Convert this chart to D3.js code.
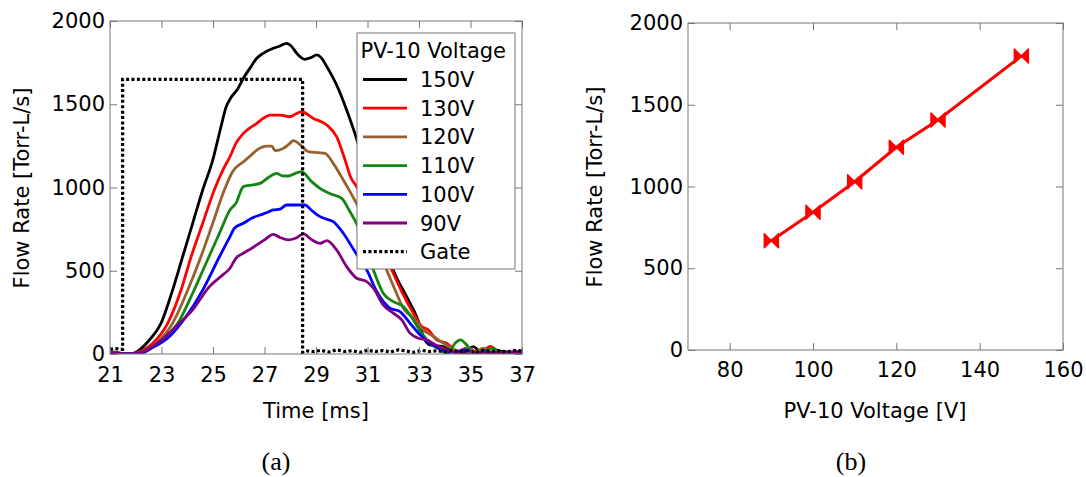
<!DOCTYPE html>
<html>
<head>
<meta charset="utf-8">
<script src="https://cdn.jsdelivr.net/npm/d3@7"></script>
<style>
  body { margin: 0; background: #fff; }
  svg text { font-family: "DejaVu Sans", sans-serif; fill: #000; }
  svg .caption { font-family: "Liberation Serif", serif; }
</style>
</head>
<body>
<svg id="chart" width="1086" height="477"></svg>
<script>
// panel (a): flow rate traces, [time ms, flow Torr-L/s]
const flow150 = [[21,12],[21.3,8],[21.6,2],[21.9,4],[22.14,24],[22.53,84],[22.98,184],[23.43,384],[23.82,584],[24.21,785],[24.6,985],[24.99,1165],[25.31,1365],[25.5,1480],[25.7,1540],[25.95,1590],[26.18,1656],[26.45,1720],[26.7,1776],[26.95,1806],[27.34,1836],[27.6,1850],[27.86,1866],[28.06,1846],[28.25,1806],[28.57,1770],[28.8,1780],[29.03,1796],[29.2,1780],[29.42,1726],[29.8,1616],[30.19,1465],[30.6,1280],[31.0,1050],[31.5,760],[32.0,505],[32.52,344],[32.91,224],[33.23,84],[33.43,54],[33.94,44],[34.33,14],[34.6,0],[34.85,20],[35.1,44],[35.4,14],[35.8,8],[36.2,15],[36.6,10],[37,12]];
const flow130 = [[21,10],[21.3,5],[21.6,0],[21.9,3],[22.1,10],[22.66,64],[23.24,184],[23.76,384],[24.15,584],[24.6,785],[25.05,985],[25.4,1110],[25.66,1185],[25.89,1265],[26.18,1325],[26.45,1360],[26.7,1385],[26.95,1415],[27.21,1435],[27.6,1435],[27.99,1425],[28.2,1440],[28.44,1455],[28.9,1415],[29.42,1375],[29.8,1305],[30.13,1165],[30.35,1060],[30.6,1000],[31.0,850],[31.5,660],[31.94,505],[32.33,375],[32.78,245],[33.1,165],[33.36,145],[33.69,85],[34.07,65],[34.5,15],[34.85,35],[35.1,20],[35.4,5],[35.76,45],[36.2,5],[36.6,12],[37,10]];
const flow120 = [[21,8],[21.3,4],[21.6,0],[21.9,2],[22.2,10],[22.79,64],[23.43,184],[24.02,384],[24.53,584],[24.99,785],[25.44,985],[25.76,1095],[26.18,1155],[26.45,1190],[26.7,1225],[27.09,1249],[27.28,1249],[27.41,1221],[27.73,1235],[27.95,1260],[28.12,1281],[28.44,1249],[28.7,1215],[29.09,1209],[29.35,1205],[29.67,1145],[30.06,1045],[30.25,995],[30.6,895],[31.0,760],[31.4,620],[31.74,505],[32.07,385],[32.39,275],[32.78,215],[33.17,145],[33.56,105],[33.94,65],[34.2,40],[34.53,5],[34.85,35],[35.1,5],[35.5,35],[35.8,10],[36.3,5],[37,8]];
const flow110 = [[21,8],[21.3,4],[21.6,0],[21.9,2],[22.3,10],[22.92,74],[23.63,184],[24.21,365],[24.73,545],[25.25,725],[25.66,865],[25.89,905],[26.18,1005],[26.5,1015],[26.83,1025],[27.15,1060],[27.47,1085],[27.7,1070],[27.92,1069],[28.2,1085],[28.44,1095],[28.8,1040],[29.2,990],[29.6,960],[30.0,935],[30.3,860],[30.6,775],[30.97,620],[31.23,505],[31.61,365],[32.0,315],[32.39,285],[32.78,205],[33.1,125],[33.43,65],[33.82,25],[34.1,0],[34.4,65],[34.6,85],[34.85,55],[35.1,5],[35.5,15],[35.87,35],[36.2,5],[36.6,10],[37,8]];
const flow100 = [[21,6],[21.3,3],[21.6,0],[21.9,0],[22.2,5],[22.6,34],[23.3,104],[23.95,224],[24.6,384],[25.25,584],[25.66,705],[25.83,755],[26.18,785],[26.5,815],[26.83,835],[27.1,850],[27.34,865],[27.6,870],[27.86,895],[28.2,895],[28.57,895],[28.85,860],[29.16,825],[29.4,810],[29.67,795],[30.06,725],[30.51,615],[30.97,505],[31.36,375],[31.87,275],[32.26,255],[32.65,185],[33.04,115],[33.3,80],[33.7,40],[34.0,20],[34.4,10],[34.8,25],[35.2,5],[35.6,15],[36.0,5],[36.5,10],[37,15]];
const flow90 = [[21,6],[21.3,3],[21.6,0],[21.9,0],[22.3,15],[22.92,74],[23.56,165],[24.21,265],[24.86,405],[25.38,475],[25.66,515],[25.89,575],[26.18,605],[26.45,630],[26.7,655],[27.0,685],[27.34,719],[27.6,700],[27.92,685],[28.2,695],[28.51,721],[28.8,690],[29.16,665],[29.42,681],[29.8,625],[30.19,525],[30.58,455],[30.97,435],[31.23,395],[31.61,295],[32.0,245],[32.33,205],[32.65,125],[32.97,95],[33.3,85],[33.7,50],[34.0,30],[34.5,5],[35.0,0],[35.5,10],[36.0,5],[36.5,10],[37,8]];
const gate = [[21,28],[21.2,32],[21.49,28],[21.49,1650],[28.48,1650],[28.48,10],[28.6,20],[28.9,15],[29.2,22],[29.5,12],[29.8,25],[30.1,15],[30.4,20],[30.7,10],[31.0,22],[31.3,15],[31.6,20],[31.9,12],[32.2,25],[32.5,18],[32.8,10],[33.1,22],[33.4,15],[33.7,20],[34.0,12],[34.3,22],[34.6,15],[34.9,20],[35.2,10],[35.5,22],[35.8,15],[36.1,20],[36.4,12],[36.7,22],[37,18]];

const seriesLabels = ['150V', '130V', '120V', '110V', '100V', '90V'];
const seriesColors = ['#000000', '#ff0000', '#98602e', '#138513', '#0000ff', '#800080'];
const seriesData = [flow150, flow130, flow120, flow110, flow100, flow90];

// panel (b): peak flow vs voltage
const voltages = [90, 100, 110, 120, 130, 150];
const peakFlow = [668, 842, 1029, 1240, 1407, 1798];

const timeTicks = [21, 23, 25, 27, 29, 31, 33, 35, 37];
const flowTicks = [0, 500, 1000, 1500, 2000];
const voltTicks = [80, 100, 120, 140, 160];

const svg = d3.select('#chart');
const frameColor = '#777';
const fontSize = 21;
const gateDash = '3,2.4';

function styleAxis(g) {
  g.attr('font-size', fontSize).attr('font-family', null);
  g.select('.domain').remove();
  g.selectAll('.tick line').attr('stroke', frameColor);
  g.selectAll('.tick text').attr('fill', '#000');
}

function drawFrame(x, y, xTicks, yTicks, xPad) {
  const [x0, x1] = x.range();
  const [y0, y1] = y.range();
  const plain = (d) => String(d);

  svg.append('g').attr('transform', `translate(0,${y0})`)
    .call(d3.axisBottom(x).tickValues(xTicks).tickFormat(plain).tickSizeInner(-7).tickSizeOuter(0).tickPadding(xPad))
    .call(styleAxis);
  svg.append('g').attr('transform', `translate(0,${y1})`)
    .call(d3.axisTop(x).tickValues(xTicks).tickSizeInner(-7).tickSizeOuter(0).tickFormat(''))
    .call(styleAxis);
  svg.append('g').attr('transform', `translate(${x0},0)`)
    .call(d3.axisLeft(y).tickValues(yTicks).tickFormat(plain).tickSizeInner(-7).tickSizeOuter(0).tickPadding(5))
    .call(styleAxis);
  svg.append('g').attr('transform', `translate(${x1},0)`)
    .call(d3.axisRight(y).tickValues(yTicks).tickSizeInner(-7).tickSizeOuter(0).tickFormat(''))
    .call(styleAxis);

  svg.append('rect')
    .attr('x', x0).attr('y', y1)
    .attr('width', x1 - x0).attr('height', y0 - y1)
    .attr('fill', 'none').attr('stroke', frameColor).attr('stroke-width', 1);
}

// ---- panel (a)
const xA = d3.scaleLinear().domain([21, 37]).range([110, 522]);
const yA = d3.scaleLinear().domain([0, 2000]).range([354, 21]);

svg.append('clipPath').attr('id', 'clipA')
  .append('rect').attr('x', 110).attr('y', 21).attr('width', 412).attr('height', 333);

const lineA = d3.line().x((d) => xA(d[0])).y((d) => yA(d[1])).curve(d3.curveMonotoneX);
const plotA = svg.append('g').attr('clip-path', 'url(#clipA)');

plotA.selectAll('path.trace')
  .data(seriesData)
  .join('path')
  .attr('class', 'trace')
  .attr('d', lineA)
  .attr('fill', 'none')
  .attr('stroke', (_, i) => seriesColors[i])
  .attr('stroke-width', 2.8)
  .attr('stroke-linejoin', 'round');

plotA.append('path')
  .attr('d', d3.line().x((d) => xA(d[0])).y((d) => yA(d[1]))(gate))
  .attr('fill', 'none')
  .attr('stroke', '#000')
  .attr('stroke-width', 3.2)
  .attr('stroke-dasharray', gateDash);

drawFrame(xA, yA, timeTicks, flowTicks, 13);

// legend
const legend = svg.append('g');
legend.append('rect')
  .attr('x', 357).attr('y', 33).attr('width', 158).attr('height', 236)
  .attr('fill', '#fff').attr('stroke', frameColor).attr('stroke-width', 1);
legend.append('text').attr('x', 360.5).attr('y', 58).attr('font-size', fontSize).text('PV-10 Voltage');

const legendItems = seriesLabels.map((label, i) => ({ label, color: seriesColors[i], dash: null }))
  .concat([{ label: 'Gate', color: '#000', dash: gateDash }]);

const items = legend.selectAll('g.item')
  .data(legendItems)
  .join('g')
  .attr('class', 'item')
  .attr('transform', (_, i) => `translate(0,${79.5 + i * 28.7})`);
items.append('line')
  .attr('x1', 363).attr('x2', 407)
  .attr('stroke', (d) => d.color)
  .attr('stroke-width', (d) => (d.dash ? 3.2 : 2.8))
  .attr('stroke-dasharray', (d) => d.dash);
items.append('text')
  .attr('x', 420).attr('y', 7.5)
  .attr('font-size', fontSize)
  .text((d) => d.label);

svg.append('text').attr('x', 316).attr('y', 418).attr('text-anchor', 'middle')
  .attr('font-size', fontSize).text('Time [ms]');
svg.append('text').attr('transform', 'translate(29,188) rotate(-90)').attr('text-anchor', 'middle')
  .attr('font-size', fontSize).text('Flow Rate [Torr-L/s]');
svg.append('text').attr('class', 'caption').attr('x', 276).attr('y', 470).attr('text-anchor', 'middle')
  .attr('font-size', 26).text('(a)');

// ---- panel (b)
const xB = d3.scaleLinear().domain([70, 160]).range([688, 1063]);
const yB = d3.scaleLinear().domain([0, 2000]).range([350, 23]);

drawFrame(xB, yB, voltTicks, flowTicks, 12);

const pointsB = voltages.map((v, i) => [v, peakFlow[i]]);

svg.append('path')
  .attr('d', d3.line().x((d) => xB(d[0])).y((d) => yB(d[1]))(pointsB))
  .attr('fill', 'none')
  .attr('stroke', '#ff0000')
  .attr('stroke-width', 3);

const s = 7;
const bowtie = `M${-s},${-s}L0,0L${-s},${s}ZM${s},${-s}L0,0L${s},${s}Z`;
svg.selectAll('path.marker')
  .data(pointsB)
  .join('path')
  .attr('class', 'marker')
  .attr('transform', (d) => `translate(${xB(d[0])},${yB(d[1])})`)
  .attr('d', bowtie)
  .attr('fill', '#ff0000')
  .attr('stroke', '#ff0000')
  .attr('stroke-width', 1.5)
  .attr('stroke-linejoin', 'round');

svg.append('text').attr('x', 875).attr('y', 418).attr('text-anchor', 'middle')
  .attr('font-size', fontSize).text('PV-10 Voltage [V]');
svg.append('text').attr('transform', 'translate(602,187) rotate(-90)').attr('text-anchor', 'middle')
  .attr('font-size', fontSize).text('Flow Rate [Torr-L/s]');
svg.append('text').attr('class', 'caption').attr('x', 851).attr('y', 470).attr('text-anchor', 'middle')
  .attr('font-size', 26).text('(b)');
</script>
</body>
</html>
